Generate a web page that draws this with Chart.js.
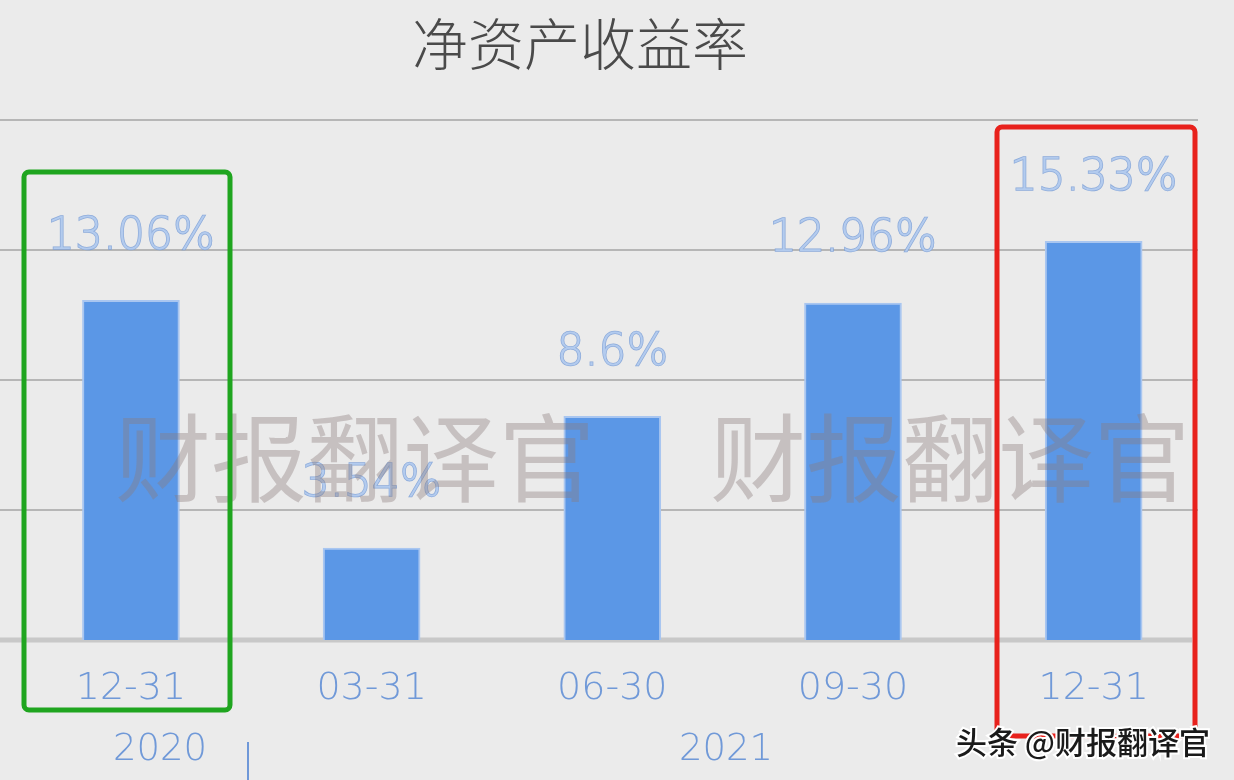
<!DOCTYPE html>
<html>
<head>
<meta charset="utf-8">
<script src="https://cdn.jsdelivr.net/npm/chart.js@4.4.1/dist/chart.umd.min.js"></script>
<style>
    html, body { margin: 0; padding: 0; background: #ebebeb; }
    #wrap { width: 1234px; height: 780px; }
</style>
</head>
<body>
<div id="wrap"><canvas id="roeChart" width="1234" height="780"></canvas></div>
<script>
const chartTitle = '净资产收益率';
const periods = ['12-31', '03-31', '06-30', '09-30', '12-31'];
const roeValues = [13.06, 3.54, 8.6, 12.96, 15.33];
const valueLabels = ['13.06%', '3.54%', '8.6%', '12.96%', '15.33%'];
const yTicks = [0, 5, 10, 15, 20];
const years = ['2020', '2021'];
const watermark = '财报翻译官';
const credit = '头条 @财报翻译官';

const CJK = '"Noto Sans CJK SC", "Noto Sans", sans-serif';
const LBL = '"DejaVu Sans", sans-serif';

function roundRect(ctx, x, y, w, h, r) {
    ctx.beginPath();
    ctx.moveTo(x + r, y);
    ctx.arcTo(x + w, y, x + w, y + h, r);
    ctx.arcTo(x + w, y + h, x, y + h, r);
    ctx.arcTo(x, y + h, x, y, r);
    ctx.arcTo(x, y, x + w, y, r);
    ctx.closePath();
}

// background, grid lines and baseline
const gridPlugin = {
    id: 'gridPlugin',
    beforeDraw(chart) {
        const ctx = chart.ctx;
        ctx.save();
        ctx.fillStyle = '#ebebeb';
        ctx.fillRect(0, 0, chart.width, chart.height);
        ctx.restore();
    },
    beforeDatasetsDraw(chart) {
        const { ctx, scales: { y } } = chart;
        ctx.save();
        yTicks.forEach(v => {
            const py = Math.round(y.getPixelForValue(v));
            ctx.beginPath();
            if (v === 0) {
                ctx.strokeStyle = '#c8c8c8';
                ctx.lineWidth = 5;
                ctx.moveTo(0, py);
                ctx.lineTo(1192, py);
            } else {
                ctx.strokeStyle = '#b6b6b6';
                ctx.lineWidth = 2;
                ctx.moveTo(0, py);
                ctx.lineTo(1198, py);
            }
            ctx.stroke();
        });
        ctx.restore();
    }
};

// labels, watermark, highlight boxes and title
const overlayPlugin = {
    id: 'overlayPlugin',
    afterDatasetsDraw(chart) {
        const ctx = chart.ctx;
        const meta = chart.getDatasetMeta(0);
        ctx.save();

        // value labels
        ctx.font = '200 44px ' + LBL;
        ctx.textAlign = 'center';
        ctx.textBaseline = 'middle';
        meta.data.forEach((bar, i) => {
            ctx.lineWidth = 1.5;
            ctx.strokeStyle = 'rgba(125,160,215,0.85)';
            ctx.fillStyle = '#b3cbee';
            ctx.strokeText(valueLabels[i], bar.x, bar.y - 63);
            ctx.fillText(valueLabels[i], bar.x, bar.y - 63);
        });

        // watermark
        ctx.font = '400 96px ' + CJK;
        ctx.textAlign = 'left';
        ctx.fillStyle = 'rgba(140,124,124,0.38)';
        [-480, 115, 710].forEach(x => ctx.fillText(watermark, x, 458));

        // green box around first bar
        ctx.lineWidth = 5;
        ctx.strokeStyle = '#1fa51f';
        roundRect(ctx, 24, 172, 206, 538, 5);
        ctx.stroke();

        // red box around last bar
        ctx.strokeStyle = '#e8211c';
        roundRect(ctx, 997, 127, 198, 609, 5);
        ctx.stroke();

        // title
        ctx.font = '300 56px ' + CJK;
        ctx.textAlign = 'center';
        ctx.fillStyle = '#4a4a4a';
        ctx.fillText(chartTitle, 580, 44);

        // year labels and separator
        ctx.font = '200 37px ' + LBL;
        ctx.fillStyle = '#7099d8';
        ctx.fillText(years[0], 160, 750);
        ctx.fillText(years[1], 726, 750);
        ctx.strokeStyle = '#6f98d8';
        ctx.lineWidth = 2;
        ctx.beginPath();
        ctx.moveTo(248, 742);
        ctx.lineTo(248, 780);
        ctx.stroke();

        // credit
        ctx.font = '500 31px ' + CJK;
        ctx.textAlign = 'right';
        ctx.lineWidth = 4;
        ctx.strokeStyle = '#ffffff';
        ctx.strokeText(credit, 1210, 742);
        ctx.fillStyle = '#1a1a1a';
        ctx.fillText(credit, 1210, 742);

        ctx.restore();
    }
};

new Chart(document.getElementById('roeChart'), {
    type: 'bar',
    data: {
        labels: periods,
        datasets: [{
            data: roeValues,
            backgroundColor: '#5b97e6',
            borderColor: '#a9c6f0',
            borderWidth: 2,
            barThickness: 97
        }]
    },
    options: {
        responsive: false,
        animation: false,
        layout: { padding: { left: 10.6, right: 20, top: 120, bottom: 0 } },
        plugins: {
            legend: { display: false },
            tooltip: { enabled: false }
        },
        scales: {
            x: {
                grid: { display: false, drawTicks: false },
                border: { display: false },
                ticks: {
                    color: '#7099d8',
                    font: { family: LBL, size: 38, weight: 200 },
                    padding: 26
                },
                afterFit: (scale) => { scale.height = 140; }
            },
            y: {
                display: false,
                min: 0,
                max: 20,
                ticks: { stepSize: 5 }
            }
        }
    },
    plugins: [gridPlugin, overlayPlugin]
});
</script>
</body>
</html>
